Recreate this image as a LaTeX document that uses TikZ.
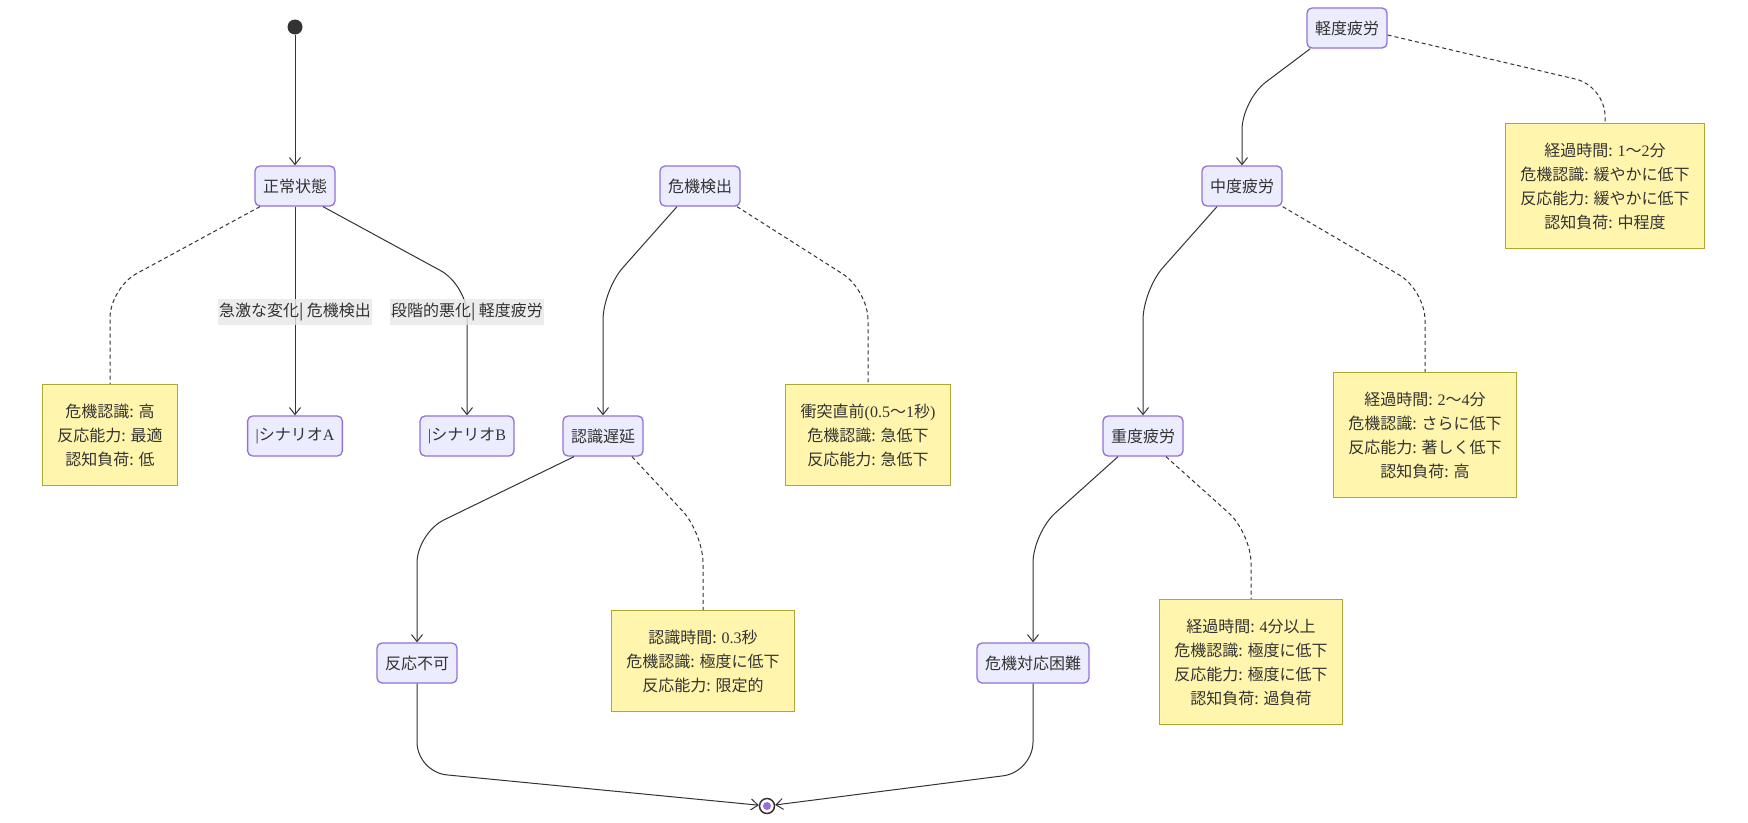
\documentclass[tikz,border=0pt]{standalone}
\usepackage{fontspec}
\setmainfont{Liberation Serif}
\newfontfamily\jp{Noto Sans CJK JP}
\usetikzlibrary{arrows.meta}
\definecolor{ink}{HTML}{333333}
\definecolor{stfill}{HTML}{ECECFF}
\definecolor{stline}{HTML}{9370DB}
\definecolor{notefill}{HTML}{FFF5AD}
\definecolor{noteline}{HTML}{AAAA33}
\definecolor{lblbg}{HTML}{E8E8E8}
\newcommand{\lnum}[1]{{\rmfamily#1}}

\begin{document}
\begin{tikzpicture}[x=1pt,y=-1pt,text=ink,font=\jp\fontsize{16}{24}\selectfont,
  state/.style={draw=stline,fill=stfill,line width=1.3pt,rounded corners=5pt,
    minimum height=40pt,inner xsep=8pt,inner ysep=0pt},
  notebox/.style={draw=noteline,fill=notefill,line width=1.3pt,align=center,
    inner xsep=15pt,inner ysep=19pt},
  edge/.style={draw=ink,line width=1pt,rounded corners=30pt,
    -{Straight Barb[length=7pt,width=11pt]}},
  notelink/.style={draw=ink,line width=1pt,rounded corners=30pt,dash pattern=on 4pt off 3pt},
  edgelabel/.style={fill=lblbg,fill opacity=.8,text opacity=1,inner xsep=1pt,inner ysep=4pt}]
  \path[use as bounding box,fill=white] (0,0) rectangle (1748,822);

  % start / end
  \node[circle,fill=ink,minimum size=15pt,inner sep=0pt] (start) at (295,27) {};
  \node[circle,draw=ink,fill=white,line width=1.5pt,minimum size=15pt,inner sep=0pt] (fin) at (767,806) {};
  \node[circle,fill=stline,minimum size=8pt,inner sep=0pt] (findot) at (fin) {};

  % states
  \node[state] (s0) at (295,186) {正常状態};
  \node[state] (scA) at (295,436) {\lnum{|}シナリオ\lnum{A}};
  \node[state] (scB) at (467,436) {\lnum{|}シナリオ\lnum{B}};
  \node[state] (s1) at (700,186) {危機検出};
  \node[state] (s2) at (603,436) {認識遅延};
  \node[state] (s3) at (417,663) {反応不可};
  \node[state] (s4) at (1033,663) {危機対応困難};
  \node[state] (s5) at (1347,28) {軽度疲労};
  \node[state] (s6) at (1242,186) {中度疲労};
  \node[state] (s7) at (1143,436) {重度疲労};

  % notes
  \node[notebox,minimum width=135pt] (noteL) at (110,435)
    {危機認識: 高\\反応能力: 最適\\認知負荷: 低};
  \node[notebox,minimum width=165pt] (noteC) at (868,435)
    {衝突直前\lnum{(0.5}～\lnum{1}秒\lnum{)}\\危機認識: 急低下\\反応能力: 急低下};
  \node[notebox,minimum width=183pt] (noteD) at (703,661)
    {認識時間: \lnum{0.3}秒\\危機認識: 極度に低下\\反応能力: 限定的};
  \node[notebox,minimum width=198pt] (noteE) at (1605,186)
    {経過時間: \lnum{1}～\lnum{2}分\\危機認識: 緩やかに低下\\反応能力: 緩やかに低下\\認知負荷: 中程度};
  \node[notebox,minimum width=183pt] (noteF) at (1425,435)
    {経過時間: \lnum{2}～\lnum{4}分\\危機認識: さらに低下\\反応能力: 著しく低下\\認知負荷: 高};
  \node[notebox,minimum width=183pt] (noteG) at (1251,662)
    {経過時間: \lnum{4}分以上\\危機認識: 極度に低下\\反応能力: 極度に低下\\認知負荷: 過負荷};

  % transitions
  \draw[edge] (start) -- (s0);
  \draw[edge] (s0) -- (scA);
  \draw[edge] ([xshift=28pt]s0.south) -- (scB.north |- 0,285) -- (scB);
  \draw[edge] ([xshift=-23pt]s1.south) -- (s2.north |- 0,290) -- (s2);
  \draw[edge] ([xshift=-29pt]s2.south) -- (s3.north |- 0,533) -- (s3);
  \draw[edge] (s3) -- (s3.south |- 0,772) -- (fin);
  \draw[edge] (s4) -- (s4.south |- 0,772) -- (fin);
  \draw[edge] ([xshift=4pt]s5.south west) -- (s6.north |- 0,100) -- (s6);
  \draw[edge] ([xshift=-25pt]s6.south) -- (s7.north |- 0,290) -- (s7);
  \draw[edge] ([xshift=-25pt]s7.south) -- (s4.north |- 0,533) -- (s4);

  % note links
  \draw[notelink] ([xshift=-35pt]s0.south) -- (noteL.north |- 0,288) -- (noteL);
  \draw[notelink] ([xshift=37pt]s1.south) -- (noteC.north |- 0,290) -- (noteC);
  \draw[notelink] ([xshift=29pt]s2.south) -- (noteD.north |- 0,533) -- (noteD);
  \draw[notelink] ([yshift=-7pt]s5.east) -- (noteE.north |- 0,86) -- (noteE);
  \draw[notelink] (s6.south east) -- (noteF.north |- 0,290) -- (noteF);
  \draw[notelink] ([xshift=23pt]s7.south) -- (noteG.north |- 0,533) -- (noteG);

  % edge labels
  \node[edgelabel] (lblA) at (295,312) {急激な変化| 危機検出};
  \node[edgelabel] (lblB) at (lblA -| scB) {段階的悪化| 軽度疲労};
\end{tikzpicture}
\end{document}
